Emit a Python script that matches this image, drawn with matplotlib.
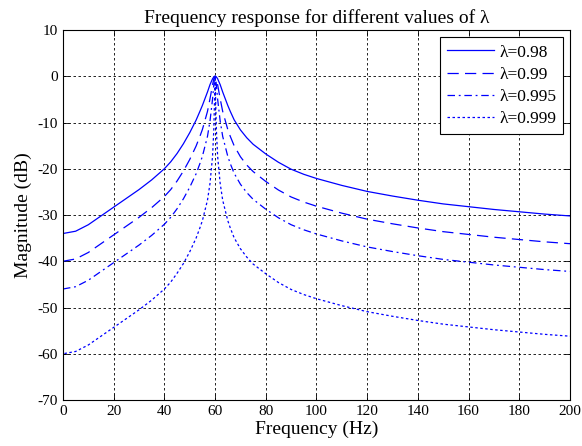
import matplotlib
matplotlib.use('Agg')
import matplotlib.pyplot as plt

plt.rcParams['font.family'] = ['Liberation Serif', 'DejaVu Serif']
plt.rcParams['axes.unicode_minus'] = False

# frequency points (Hz)
freq = [0, 5, 10, 15, 20, 25, 30, 35, 40, 42.5, 45, 47.5, 50, 52.5, 54, 55, 57,
        58, 59, 59.5, 59.8, 60, 60.2, 60.5, 61, 62, 63, 65, 66, 67.5, 70, 72.5,
        75, 80, 85, 90, 95, 100, 110, 120, 130, 140, 150, 160, 170, 180, 190, 200]

# magnitude (dB) for each lambda
mag_098 = [-34.0, -33.5, -32.1, -30.2, -28.3, -26.4, -24.5, -22.4, -20.0, -18.5,
           -16.7, -14.6, -12.2, -9.5, -7.6, -6.3, -3.4, -1.8, -0.54, -0.14,
           -0.02, 0.0, -0.02, -0.14, -0.54, -1.8, -3.4, -6.3, -7.6, -9.4,
           -11.6, -13.3, -14.7, -16.8, -18.6, -20.1, -21.2, -22.1, -23.6,
           -24.9, -25.9, -26.8, -27.6, -28.2, -28.8, -29.3, -29.8, -30.2]
mag_099 = [-40.0, -39.5, -38.1, -36.2, -34.3, -32.4, -30.5, -28.4, -26.0, -24.5,
           -22.65, -20.5, -18.0, -15.1, -13.0, -11.5, -7.6, -4.85, -1.84, -0.54,
           -0.09, 0.0, -0.09, -0.54, -1.84, -4.85, -7.6, -11.5, -13.0, -15.0,
           -17.4, -19.2, -20.6, -22.75, -24.6, -26.1, -27.2, -28.1, -29.6,
           -30.9, -31.9, -32.8, -33.6, -34.2, -34.8, -35.3, -35.8, -36.2]
mag_0995 = [-46.0, -45.5, -44.1, -42.2, -40.3, -38.4, -36.5, -34.4, -32.0, -30.5,
            -28.65, -26.5, -24.0, -21.1, -18.9, -17.3, -13.0, -9.65, -4.93, -1.83,
            -0.35, 0.0, -0.35, -1.83, -4.93, -9.65, -13.0, -17.3, -18.9, -20.95,
            -23.35, -25.15, -26.6, -28.75, -30.6, -32.1, -33.2, -34.1, -35.6,
            -36.9, -37.9, -38.8, -39.6, -40.2, -40.8, -41.3, -41.8, -42.2]
freq_0999 = [0] + freq
mag_0999 = [-64.0, -60.0, -59.5, -58.1, -56.2, -54.3, -52.4, -50.5, -48.4, -46.0,
            -44.5, -42.6, -40.5, -37.95, -35.0, -32.8, -31.2, -26.8, -23.15, -17.3,
            -11.5, -4.9, 0.0, -4.9, -11.5, -17.3, -23.15, -26.8, -31.2, -32.8,
            -34.9, -37.3, -39.1, -40.6, -42.7, -44.6, -46.1, -47.2, -48.1,
            -49.6, -50.9, -51.9, -52.8, -53.6, -54.2, -54.8, -55.3, -55.8, -56.2]

labels = ['λ=0.98', 'λ=0.99', 'λ=0.995', 'λ=0.999']
xticks = list(range(0, 201, 20))
yticks = list(range(-70, 11, 10))

fig = plt.figure(figsize=(5.82, 4.46), dpi=100)
ax = fig.add_axes([0.1082, 0.1031, 0.8712, 0.8296])

ax.plot(freq, mag_098, color='blue', lw=0.9, label=labels[0])
ax.plot(freq, mag_099, color='blue', lw=0.9, dashes=(9, 5), label=labels[1])
ax.plot(freq, mag_0995, color='blue', lw=0.9, dashes=(6, 3, 1.5, 3), label=labels[2])
ax.plot(freq_0999, mag_0999, color='blue', lw=0.9, dashes=(2, 2), label=labels[3])

ax.set_xlim(0, 200)
ax.set_ylim(-70, 10)
ax.set_xticks(xticks)
ax.set_yticks(yticks)
ax.tick_params(direction='in', top=True, right=True, labelsize=11, length=4, width=0.6)
ax.grid(True, color='black', lw=0.6, dashes=(3, 3))
for s in ax.spines.values():
    s.set_linewidth(0.8)

ax.set_title('Frequency response for different values of λ', fontsize=14, pad=5)
ax.set_xlabel('Frequency (Hz)', fontsize=14, labelpad=2)
ax.set_ylabel('Magnitude (dB)', fontsize=14, labelpad=4)

leg = ax.legend(loc='upper right', bbox_to_anchor=(0.987, 0.980), borderaxespad=0,
                fontsize=12.5, fancybox=False, edgecolor='black', framealpha=1,
                handlelength=2.7, borderpad=0.4, labelspacing=0.35,
                handletextpad=0.3)
leg.get_frame().set_linewidth(0.8)

fig.savefig('out.png', dpi=100)
